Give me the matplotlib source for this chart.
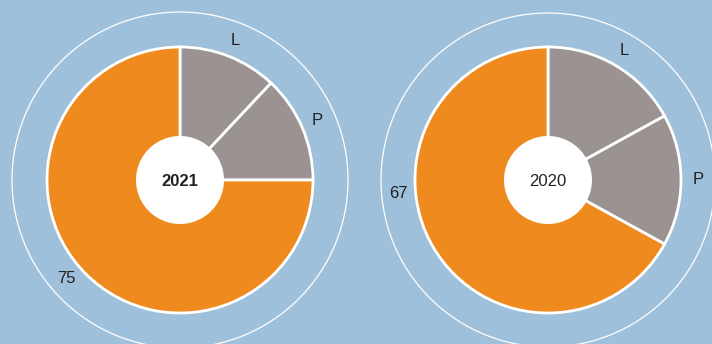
import numpy as np
import matplotlib.pyplot as plt
from matplotlib.patches import Circle

# data
years = ['2021', '2020']
labels = ['L', 'P', '']
values_2021 = [12, 13, 75]
values_2020 = [17, 16, 67]
big_labels = ['75', '67']

# style
bg = '#9fc0db'
orange = '#ef8a1f'
grey = '#9b9292'
text_col = '#231f20'
plt.rcParams['font.family'] = ['Liberation Sans', 'DejaVu Sans']

fig = plt.figure(figsize=(7.12, 3.44), dpi=100)
fig.patch.set_facecolor(bg)
ax = fig.add_axes([0, 0, 1, 1])
ax.set_facecolor(bg)

centers = [(180, 164), (548, 164)]
outer_r = [168, 167]
pie_r = 133
hole_r = 44
label_r = 150
# angle (deg clockwise from top) where the big number sits
big_angle = [229, 265]

for i, vals in enumerate([values_2021, values_2020]):
	cx, cy = centers[i]
	ax.add_patch(Circle((cx, cy), outer_r[i], facecolor='none',
						edgecolor='white', linewidth=0.9))
	ax.pie(vals, colors=[grey, grey, orange], center=(cx, cy), radius=pie_r,
			startangle=90, counterclock=False, frame=True,
			wedgeprops=dict(edgecolor='white', linewidth=2.0))
	ax.add_patch(Circle((cx, cy), hole_r, facecolor='white',
						edgecolor='none', zorder=5))
	ax.text(cx, cy - 2, years[i], ha='center', va='center', fontsize=12,
			color=text_col, zorder=6,
			fontweight='bold' if i == 0 else 'normal')
	# small slice labels at middle of each slice
	cum = np.cumsum([0] + vals)
	total = sum(vals)
	for k in range(2):
		ang = np.deg2rad((cum[k] + vals[k] / 2) / total * 360)
		ax.text(cx + label_r * np.sin(ang), cy + label_r * np.cos(ang),
				labels[k], ha='center', va='center', fontsize=12,
				color=text_col)
	ang = np.deg2rad(big_angle[i])
	ax.text(cx + label_r * np.sin(ang), cy + label_r * np.cos(ang),
			big_labels[i], ha='center', va='center', fontsize=12,
			color=text_col)

ax.set_xlim(0, 712)
ax.set_ylim(0, 344)
ax.set_aspect('equal')
ax.axis('off')
fig.savefig('out.png', dpi=100, facecolor=bg)
